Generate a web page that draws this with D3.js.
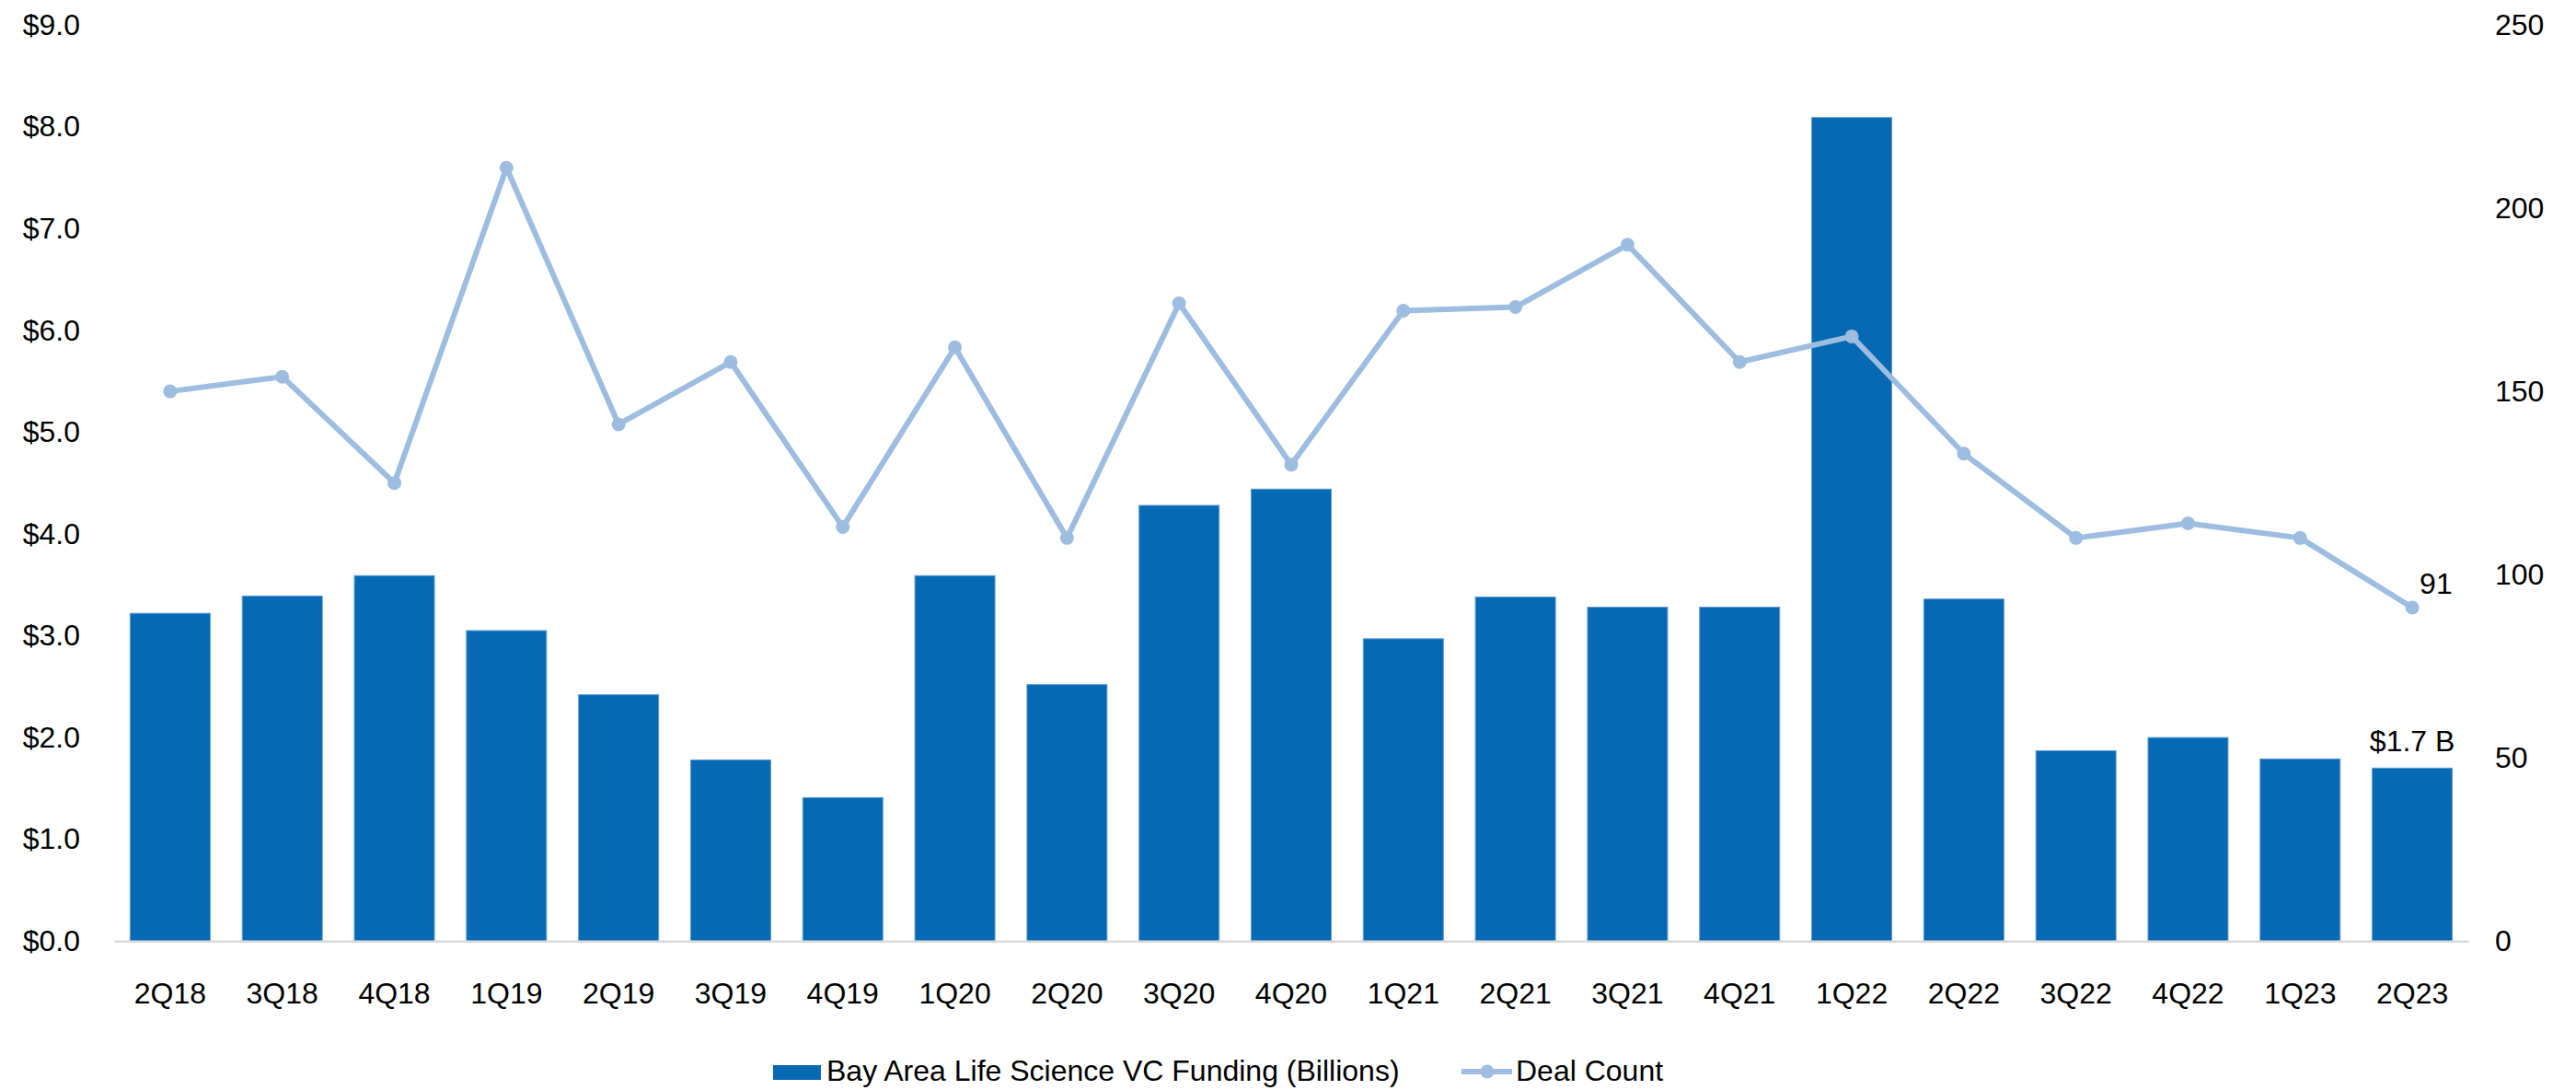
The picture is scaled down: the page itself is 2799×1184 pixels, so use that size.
<!DOCTYPE html>
<html>
<head>
<meta charset="utf-8">
<script src="https://cdn.jsdelivr.net/npm/d3@7"></script>
<style>
  html, body { margin: 0; padding: 0; background: #ffffff; }
  svg { display: block; font-family: "Liberation Sans", Arial, sans-serif; }
</style>
</head>
<body>
<svg id="chart" width="2799" height="1184"></svg>
<script>
// Quarterly Bay Area life science venture funding and deal counts
const quarters = ["2Q18","3Q18","4Q18","1Q19","2Q19","3Q19","4Q19","1Q20","2Q20","3Q20","4Q20",
                  "1Q21","2Q21","3Q21","4Q21","1Q22","2Q22","3Q22","4Q22","1Q23","2Q23"];
const funding = [3.22, 3.39, 3.59, 3.05, 2.42, 1.78, 1.41, 3.59, 2.52, 4.28, 4.44,
                 2.97, 3.38, 3.28, 3.28, 8.09, 3.36, 1.87, 2.00, 1.79, 1.70];
const dealCount = [150, 154, 125, 211, 141, 158, 113, 162, 110, 174, 130,
                   172, 173, 190, 158, 165, 133, 110, 114, 110, 91];
const fundingTicks = [0, 1, 2, 3, 4, 5, 6, 7, 8, 9];
const dealTicks = [0, 50, 100, 150, 200, 250];
const seriesNames = ["Bay Area Life Science VC Funding (Billions)", "Deal Count"];

const barColor = "#0569b3";
const lineColor = "#9cbde0";
const fontSize = 32;

const svg = d3.select("#chart");
const plot = { left: 124, right: 2682, top: 27, bottom: 1022.3 };

const x = d3.scaleBand()
  .domain(quarters)
  .range([plot.left, plot.right])
  .paddingInner(0.286)
  .paddingOuter(0.143);

const yL = d3.scaleLinear().domain([0, 9]).range([plot.bottom, plot.top]);
const yR = d3.scaleLinear().domain([0, 250]).range([plot.bottom, plot.top]);

// Bars
svg.append("g")
  .selectAll("rect")
  .data(quarters)
  .join("rect")
  .attr("x", d => x(d))
  .attr("y", (d, i) => yL(funding[i]))
  .attr("width", x.bandwidth())
  .attr("height", (d, i) => yL(0) - yL(funding[i]))
  .attr("fill", barColor)
  .attr("stroke", "#5d9bd6")
  .attr("stroke-width", 1);

// Category axis
const xAxis = svg.append("g")
  .attr("transform", `translate(0,${plot.bottom})`)
  .call(d3.axisBottom(x).tickSize(0).tickPadding(45));
xAxis.select(".domain").attr("stroke", "#d9d9d9").attr("stroke-width", 2.5);
xAxis.selectAll("text").attr("font-size", fontSize).attr("fill", "#000");

// Left value axis
const leftAxis = svg.append("g")
  .attr("transform", `translate(${plot.left},0)`)
  .call(d3.axisLeft(yL).tickValues(fundingTicks).tickSize(0).tickPadding(37)
        .tickFormat(d => "$" + d.toFixed(1)));
leftAxis.select(".domain").remove();
leftAxis.selectAll("text").attr("font-size", fontSize).attr("fill", "#000");

// Right count axis
const rightAxis = svg.append("g")
  .attr("transform", `translate(${plot.right},0)`)
  .call(d3.axisRight(yR).tickValues(dealTicks).tickSize(0).tickPadding(29));
rightAxis.select(".domain").remove();
rightAxis.selectAll("text").attr("font-size", fontSize).attr("fill", "#000");

// Deal count line
const cx = d => x(d) + x.bandwidth() / 2;
const line = d3.line()
  .x(d => cx(d))
  .y((d, i) => yR(dealCount[i]));

svg.append("path")
  .datum(quarters)
  .attr("d", line)
  .attr("fill", "none")
  .attr("stroke", lineColor)
  .attr("stroke-width", 6)
  .attr("stroke-linejoin", "round");

svg.append("g")
  .selectAll("circle")
  .data(quarters)
  .join("circle")
  .attr("cx", d => cx(d))
  .attr("cy", (d, i) => yR(dealCount[i]))
  .attr("r", 7.5)
  .attr("fill", lineColor);

// Value labels on the latest quarter
const last = quarters.length - 1;
svg.append("text")
  .attr("x", cx(quarters[last]))
  .attr("y", yL(funding[last]) - 18)
  .attr("text-anchor", "middle")
  .attr("font-size", fontSize)
  .attr("fill", "#000")
  .text("$" + funding[last].toFixed(1) + " B");

svg.append("text")
  .attr("x", cx(quarters[last]) + 8)
  .attr("y", yR(dealCount[last]) - 15)
  .attr("font-size", fontSize)
  .attr("fill", "#000")
  .text(dealCount[last]);

// Legend
const legend = svg.append("g");
legend.append("rect")
  .attr("x", 840).attr("y", 1157).attr("width", 52).attr("height", 16)
  .attr("fill", barColor);
legend.append("text")
  .attr("x", 898).attr("y", 1174)
  .attr("font-size", fontSize).attr("fill", "#000")
  .text(seriesNames[0]);
legend.append("line")
  .attr("x1", 1588).attr("x2", 1643).attr("y1", 1164).attr("y2", 1164)
  .attr("stroke", lineColor).attr("stroke-width", 6);
legend.append("circle")
  .attr("cx", 1616).attr("cy", 1164).attr("r", 7.5).attr("fill", lineColor);
legend.append("text")
  .attr("x", 1647).attr("y", 1174)
  .attr("font-size", fontSize).attr("fill", "#000")
  .text(seriesNames[1]);
</script>
</body>
</html>
